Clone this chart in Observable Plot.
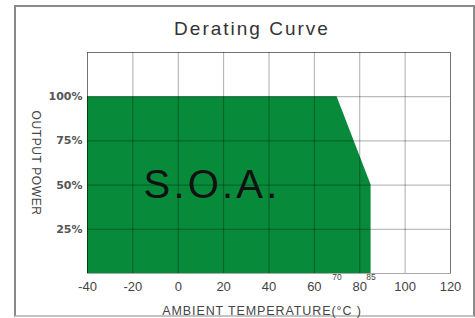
<!DOCTYPE html>
<html>
<head>
<meta charset="utf-8">
<script src="https://cdn.jsdelivr.net/npm/d3@7"></script>
<script src="https://cdn.jsdelivr.net/npm/@observablehq/plot@0.6"></script>
<style>
  html, body { margin: 0; padding: 0; background: #fff; }
  #wrap { position: relative; width: 475px; height: 318px; overflow: hidden; font-family: "Liberation Sans", Arial, sans-serif; }
  #border { position: absolute; left: 14px; top: 5px; width: 457px; height: 308px; border: 2px solid #8a8a8a; border-bottom-color: #c4c4c4; }
  #title { position: absolute; left: 0; width: 504px; top: 18px; text-align: center; font-size: 19px; letter-spacing: 2px; color: #333; }
  #chart { position: absolute; left: 0; top: 0; }
  #chart svg { overflow: visible; }
</style>
</head>
<body>
<div id="wrap">
  <div id="border"></div>
  <div id="chart"></div>
  <div id="title">Derating Curve</div>
</div>
<script>
// Derating curve data
const temperatures = [-40, 70, 85];      // °C
const outputPower = [100, 100, 50];      // %
const xTicks = [-40, -20, 0, 20, 40, 60, 80, 100, 120];
const yTicks = [25, 50, 75, 100];
const yGrid = [25, 50, 75, 100, 125];
const breakpoints = [70, 85];
const soaLabel = [{x: 14, y: 50, text: "S.O.A."}];
const xLabel = "AMBIENT TEMPERATURE(°C )";
const yLabel = "OUTPUT POWER";

const data = temperatures.map((t, i) => ({t, p: outputPower[i]}));

const chart = Plot.plot({
  width: 475,
  height: 318,
  marginLeft: 87,
  marginRight: 25,
  marginTop: 52,
  marginBottom: 45,
  style: {fontFamily: "Liberation Sans, Arial, sans-serif", background: "transparent"},
  x: {domain: [-40, 120]},
  y: {domain: [0, 125]},
  marks: [
    Plot.areaY(data, {x: "t", y: "p", fill: "#078a3a", curve: "linear"}),
    Plot.gridX(xTicks, {stroke: "#000", strokeOpacity: 0.33, strokeWidth: 1}),
    Plot.gridY(yGrid, {stroke: "#000", strokeOpacity: 0.33, strokeWidth: 1}),
    Plot.frame({stroke: "#000", strokeOpacity: 0.33}),
    Plot.axisX(xTicks, {tickSize: 0, tickPadding: 8, fontSize: 13, fill: "#444",
      tickFormat: d => String(d), label: null}),
    Plot.axisY(yTicks, {tickSize: 0, tickPadding: 5, fontSize: 11, fontWeight: "bold", fill: "#555",
      fontFamily: "DejaVu Sans, sans-serif", tickFormat: d => d + "%", label: null}),
    Plot.text([xLabel], {frameAnchor: "bottom", dy: 37, textAnchor: "middle", lineAnchor: "middle",
      fontSize: 12.5, fill: "#444", dx: -7}),
    Plot.text([yLabel], {frameAnchor: "left", dx: -52, rotate: 90, textAnchor: "middle",
      fontSize: 12, fill: "#444"}),
    Plot.text(breakpoints, {x: d => d, text: d => String(d), frameAnchor: "bottom", dy: 0,
      lineAnchor: "top", fontSize: 8.5, fill: "#444"}),
    Plot.text(soaLabel, {x: "x", y: "y", text: "text", fontSize: 40, fill: "#111", dx: 2,
      lineAnchor: "middle"})
  ]
});
document.getElementById("chart").appendChild(chart);

const spacing = new Map([["S.O.A.", "3.2px"], [xLabel, "0.9px"], [yLabel, "0.6px"]]);
d3.select(chart).selectAll("text").each(function() {
  const s = spacing.get(this.textContent);
  if (s) this.setAttribute("letter-spacing", s), this.style.letterSpacing = s;
});
</script>
</body>
</html>
